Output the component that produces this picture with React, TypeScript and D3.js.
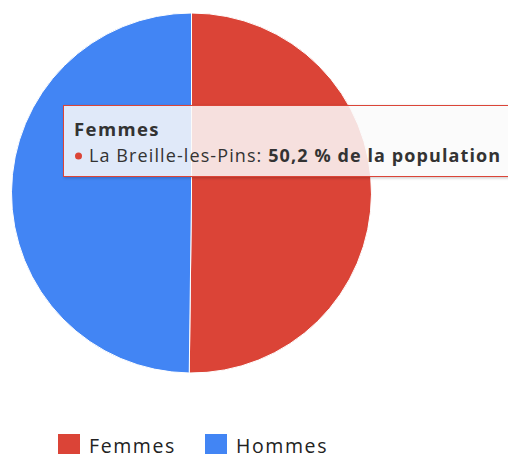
import React from "react";
import * as d3 from "d3";

const categories = ["Femmes", "Hommes"];
const values = [50.2, 49.8];
const colors = ["#db4437", "#4285f4"];
const tooltipTitle = "Femmes";
const tooltipLabel = "La Breille-les-Pins: ";
const tooltipValue = "50,2 % de la population";

export default function App() {
  const W = 508, H = 454;
  const cx = 191.5, cy = 193, r = 180;
  const pie = d3.pie<number>().sort(null).value((d) => d)(values);
  const arc = d3.arc<d3.PieArcDatum<number>>().innerRadius(0).outerRadius(r);
  const font = "'Open Sans', sans-serif";
  const legendX = [58, 205];
  return (
    <svg width={W} height={H} style={{ position: "absolute", left: 0, top: 0, fontFamily: font }}>
      <defs>
        <filter id="sh" x="-10%" y="-20%" width="130%" height="150%">
          <feDropShadow dx="1" dy="1" stdDeviation="1.5" floodOpacity="0.25" />
        </filter>
      </defs>
      <g transform={`translate(${cx},${cy})`}>
        {pie.map((p, i) => (
          <path key={categories[i]} d={arc(p) || ""} fill={colors[i]} stroke="#ffffff" strokeWidth={1} />
        ))}
      </g>
      {categories.map((c, i) => (
        <g key={c} transform={`translate(${legendX[i]},434)`}>
          <rect width={22} height={22} fill={colors[i]} />
          <text x={31} y={19} fontSize={19.5} fill="#222" letterSpacing={1.6}>{c}</text>
        </g>
      ))}
      <g>
        <rect x={63.5} y={105.5} width={460} height={71} fill="#ffffff" fillOpacity={0.82} stroke={colors[0]} strokeWidth={1} filter="url(#sh)" />
        <text x={74} y={136} fontSize={18.5} fontWeight="bold" fill="#333" letterSpacing={1.4}>{tooltipTitle}</text>
        <circle cx={78.5} cy={156} r={3.5} fill={colors[0]} />
        <text x={89} y={162} fontSize={18} fill="#333" letterSpacing={1.1}>
          {tooltipLabel}
          <tspan fontWeight="bold">{tooltipValue}</tspan>
        </text>
      </g>
    </svg>
  );
}
